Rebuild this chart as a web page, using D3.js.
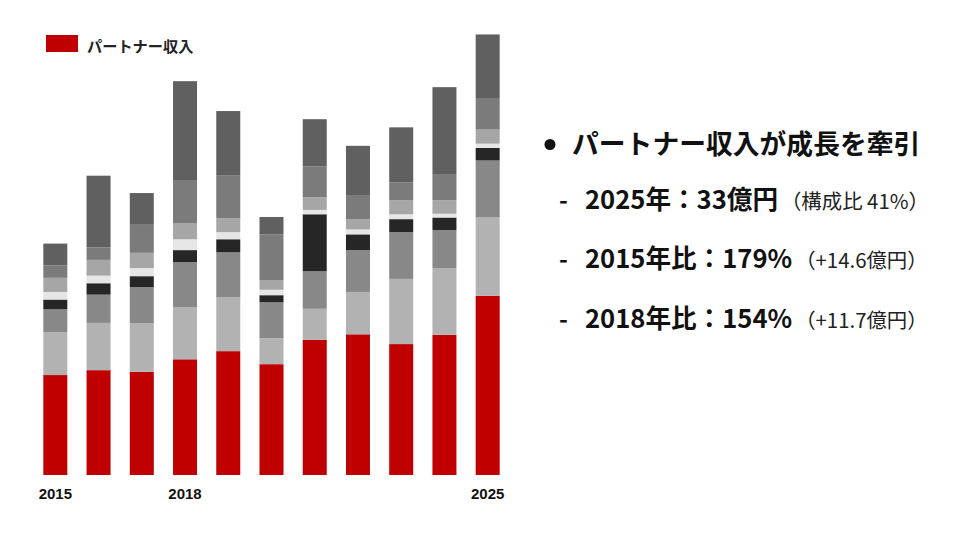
<!DOCTYPE html>
<html><head><meta charset="utf-8">
<script src="https://cdn.jsdelivr.net/npm/d3@7"></script>
<style>
html,body{margin:0;padding:0;background:#fff;}
svg{display:block;}
</style></head>
<body>
<svg id="c" width="960" height="540"></svg>
<script>
// ---- data (億円) ----
const years = ["2015","2016","2017","2018","2019","2020","2021","2022","2023","2024","2025"];
const tickYears = ["2015","2018","2025"];
const partner = [18.4, 19.3, 19.0, 21.3, 22.8, 20.4, 24.9, 25.9, 24.1, 25.8, 33.0];
const other1  = [7.9, 8.7, 8.9, 9.6, 9.9, 4.8, 5.7, 7.8, 12.0, 12.3, 14.4];
const other2  = [4.2, 5.2, 6.7, 8.3, 8.3, 6.6, 6.9, 7.7, 8.6, 7.0, 10.5];
const other3  = [1.8, 2.1, 2.0, 2.2, 2.4, 1.3, 10.5, 2.9, 2.4, 2.3, 2.3];
const other4  = [1.4, 1.4, 1.5, 2.0, 1.3, 1.0, 0.8, 0.9, 0.9, 0.7, 0.8];
const other5  = [2.6, 2.9, 2.8, 2.9, 2.6, 1.8, 2.3, 1.9, 2.6, 2.5, 2.6];
const other6  = [2.3, 2.3, 5.3, 8.0, 7.9, 8.4, 5.7, 4.3, 3.3, 4.8, 5.8];
const other7  = [4.0, 13.2, 5.7, 18.2, 11.8, 3.2, 8.7, 9.2, 10.1, 16.0, 11.7];
const seriesKeys = ["パートナー収入","other1","other2","other3","other4","other5","other6","other7"];
const seriesVals = [partner, other1, other2, other3, other4, other5, other6, other7];
const legendLabel = "パートナー収入";
const colors = ["#c00000","#b2b2b2","#888888","#262626","#e6e6e6","#a6a6a6","#7b7b7b","#606060"];

// ---- table built from arrays ----
const table = years.map((y,i)=>{
  const o = {year:y};
  seriesKeys.forEach((k,j)=>{ o[k] = seriesVals[j][i]; });
  return o;
});

const svg = d3.select("#c");
const x = d3.scaleBand().domain(years).range([33.7, 509.3]).paddingInner(0.445).paddingOuter(0.2225);
const y = d3.scaleLinear().domain([0, 81]).range([475, 35]);
const color = d3.scaleOrdinal().domain(seriesKeys).range(colors);

const stacked = d3.stack().keys(seriesKeys)(table);

svg.append("g").selectAll("g").data(stacked).join("g")
  .attr("fill", d=>color(d.key))
  .selectAll("rect").data(d=>d).join("rect")
  .attr("x", d=>x(d.data.year))
  .attr("width", x.bandwidth())
  .attr("y", d=>y(d[1]))
  .attr("height", d=>y(d[0])-y(d[1]));

// x axis
const xAxis = d3.axisBottom(x).tickSize(0).tickPadding(0)
  .tickFormat(d=> tickYears.includes(d) ? d : "");
const gx = svg.append("g").attr("transform","translate(0,488)").call(xAxis);
gx.select(".domain").remove();
gx.selectAll("text")
  .attr("dy","0.71em")
  .attr("font-family","'Liberation Sans', Arial, sans-serif")
  .attr("font-weight","bold")
  .attr("font-size","15px")
  .attr("fill","#111");

// legend
const lg = svg.append("g");
lg.append("rect").attr("x",46).attr("y",35).attr("width",32).attr("height",17).attr("fill",colors[0]);
lg.append("text").attr("x",87).attr("y",44.5).attr("dominant-baseline","central")
  .attr("font-family","'Noto Sans CJK JP', sans-serif").attr("font-weight","bold")
  .attr("font-size","15.2px").attr("fill","#222").text(legendLabel);

// right text panel
const jp = "'Noto Sans CJK JP', 'Noto Sans', sans-serif";
const tp = svg.append("g").attr("font-family", jp).attr("fill","#111");
tp.append("circle").attr("cx",550).attr("cy",144.5).attr("r",5.5).attr("fill","#111");
tp.append("text").attr("x",572).attr("y",154).attr("font-size","26.8px").attr("font-weight","bold")
  .text("パートナー収入が成長を牽引");

const lines = [
  {b:"2025年：33億円", r:"（構成比 41%）", y:209},
  {b:"2015年比：179%", r:"（+14.6億円）", y:268},
  {b:"2018年比：154%", r:"（+11.7億円）", y:327.5}
];
lines.forEach(l=>{
  tp.append("text").attr("x",559).attr("y",l.y).attr("font-size","24px").attr("font-weight","bold").text("-");
  const t = tp.append("text").attr("x",585).attr("y",l.y);
  t.append("tspan").attr("font-size","25.6px").attr("font-weight","bold").text(l.b);
  t.append("tspan").attr("dx",3).attr("font-size","20.4px").attr("font-weight","normal").attr("fill","#222").text(l.r);
});
</script>
</body></html>
